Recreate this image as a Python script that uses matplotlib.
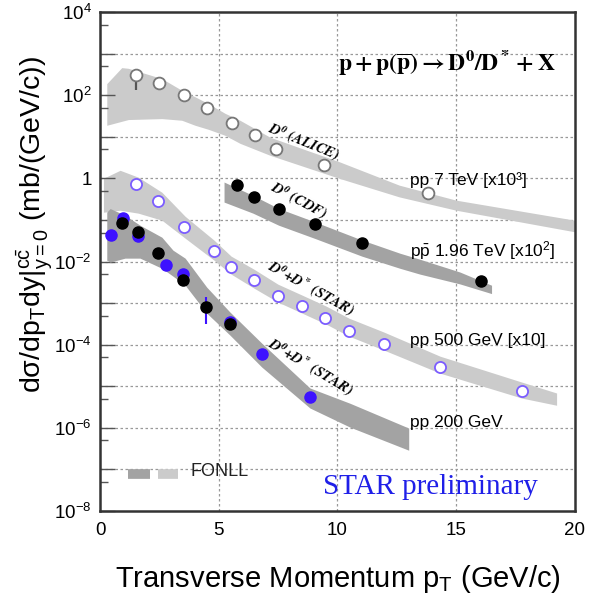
import matplotlib
matplotlib.use("Agg")
from matplotlib import pyplot as plt
from matplotlib.ticker import FixedLocator, FuncFormatter
import numpy as np

plt.rcParams['font.family'] = ['Liberation Sans', 'DejaVu Sans']
plt.rcParams['mathtext.fontset'] = 'custom'
plt.rcParams['mathtext.rm'] = 'Liberation Sans'
plt.rcParams['mathtext.it'] = 'Liberation Sans:italic'
plt.rcParams['mathtext.bf'] = 'Liberation Sans:bold'

# --- data points ---
alice_x = [1.52, 2.50, 3.55, 4.52, 5.55, 6.51, 7.41, 9.44, 13.82]
alice_y = [302, 198, 104, 50, 21, 11, 5.2, 2.1, 0.44]

cdf_x = [5.76, 6.50, 7.54, 9.05, 11.02, 16.04]
cdf_y = [0.69, 0.35, 0.18, 0.078, 0.028, 0.0035]

star500_x = [1.52, 2.45, 3.54, 4.80, 5.52, 6.48, 7.48, 8.51, 9.49, 10.48, 11.96, 14.33, 17.77]
star500_y = [0.72, 0.29, 0.068, 0.0178, 0.0075, 0.0037, 0.00148, 0.00085, 0.00045,
             0.000216, 0.000107, 2.9e-5, 7.7e-6]

star200_blue_x = [0.45, 0.98, 1.59, 2.78, 3.48, 5.47, 6.81, 8.84]
star200_blue_y = [0.043, 0.112, 0.041, 0.0085, 0.0049, 0.000354, 5.9e-5, 5.6e-6]

star200_black_x = [0.91, 1.59, 2.45, 3.48, 4.46, 5.47]
star200_black_y = [0.085, 0.052, 0.0162, 0.0037, 0.00081, 0.000313]

# --- FONLL bands ---
alice_band_x = [0.28, 0.91, 1.19, 2.60, 3.44, 4.0, 4.56, 5.26, 5.89, 7.16, 10.1, 12.6, 15.0, 20.0]
alice_band_hi = [191, 463, 446, 252, 132, 92, 63, 36.9, 25.1, 9.8, 2.49, 0.69, 0.30, 0.099]
alice_band_lo = [19.0, 23.7, 26.1, 27.5, 25.1, 19.0, 15.2, 10.9, 7.0, 3.6, 0.995, 0.36, 0.172, 0.052]

cdf_band_x = [5.22, 6.44, 7.52, 9.05, 11.03, 12.63, 13.47, 15.16, 16.49]
cdf_band_hi = [0.82, 0.39, 0.19, 0.090, 0.033, 0.0159, 0.0114, 0.0056, 0.0027]
cdf_band_lo = [0.27, 0.146, 0.075, 0.036, 0.0135, 0.0069, 0.0050, 0.0029, 0.0017]

s500_band_x = [0.14, 0.84, 1.61, 2.60, 3.58, 4.80, 5.52, 6.48, 7.49, 8.51, 9.52, 10.48,
               11.96, 14.32, 17.77, 19.23]
s500_band_hi = [1.01, 1.57, 1.07, 0.466, 0.123, 0.0327, 0.0135, 0.00656, 0.00286, 0.00156,
                8.5e-4, 4.36e-4, 2.01e-4, 5.3e-5, 1.26e-5, 6.9e-6]
s500_band_lo = [0.154, 0.172, 0.146, 0.099, 0.0366, 0.0108, 0.00498, 0.0023, 0.00106,
                5.75e-4, 3.13e-4, 1.61e-4, 7.4e-5, 2.07e-5, 5.2e-6, 3.5e-6]

s200_band_x = [0.28, 0.42, 1.05, 1.68, 2.60, 3.07, 3.58, 4.49, 5.47, 6.81, 8.84, 10.53, 13.0]
s200_band_hi = [0.154, 0.189, 0.130, 0.075, 0.0386, 0.0188, 0.0121, 0.00243, 6.1e-4,
                1.09e-4, 9.1e-6, 3.9e-6, 9.9e-7]
s200_band_lo = [0.0108, 0.0097, 0.0121, 0.0121, 0.0069, 0.00446, 0.00271, 5.75e-4, 1.70e-4,
                2.9e-5, 3.0e-6, 1.04e-6, 2.9e-7]

light = '#cbcbcb'
dark = '#a3a3a3'
blue = '#3d12ff'
purple = '#7b5cff'

fig = plt.figure(figsize=(5.89, 5.96), dpi=100)
ax = fig.add_axes([0.170, 0.1426, 0.806, 0.837])
ax.set_yscale('log')
ax.set_xlim(0, 20)
ax.set_ylim(1e-8, 1e4)

# grid lines drawn first, under the bands
for xv in [5, 10, 15]:
    ax.axvline(xv, color='#999999', linestyle=(0, (2, 2)), linewidth=0.9, zorder=0)
for k in range(-7, 4):
    ax.axhline(10.0 ** k, color='#999999', linestyle=(0, (2, 2)), linewidth=0.9, zorder=0)

# bands
ax.fill_between(alice_band_x, alice_band_lo, alice_band_hi, color=light, lw=0, zorder=1)
ax.fill_between(s500_band_x, s500_band_lo, s500_band_hi, color=light, lw=0, zorder=1)
ax.fill_between(cdf_band_x, cdf_band_lo, cdf_band_hi, color=dark, lw=0, zorder=2)
ax.fill_between(s200_band_x, s200_band_lo, s200_band_hi, color=dark, lw=0, zorder=2)

# points
ax.errorbar([alice_x[0]], [alice_y[0]], yerr=[[alice_y[0] - 132], [0]], fmt='none',
            ecolor='#555555', elinewidth=1.6, zorder=3)
ax.plot(alice_x, alice_y, 'o', ms=8.5, mfc='white', mec='#777777', mew=1.3, zorder=4)
ax.plot(star500_x, star500_y, 'o', ms=8, mfc='white', mec=purple, mew=1.3, zorder=4)
ax.plot(cdf_x, cdf_y, 'o', ms=8, color='black', zorder=4)
ax.plot(star200_blue_x, star200_blue_y, 'o', ms=8, color=blue, zorder=4)
ax.errorbar([star200_black_x[4]], [star200_black_y[4]], yerr=[[4.9e-4], [6.0e-4]], fmt='none',
            ecolor=blue, elinewidth=1.5, zorder=4)
ax.plot(star200_black_x, star200_black_y, 'o', ms=8, color='black', zorder=5)

# axes styling
for s in ax.spines.values():
    s.set_color('#333333')
    s.set_linewidth(1.8)
    s.set_zorder(6)
decades = [10.0 ** k for k in range(-8, 5)]
halves = [5 * 10.0 ** k for k in range(-9, 4)]
ax.yaxis.set_major_locator(FixedLocator(decades))
ax.yaxis.set_minor_locator(FixedLocator(halves))


def ylab(v, pos):
    k = int(round(np.log10(v)))
    if k % 2:
        return ''
    if k == 0:
        return '1'
    return r'10$^{%d}$' % k


ax.yaxis.set_major_formatter(FuncFormatter(ylab))
ax.yaxis.set_minor_formatter(FuncFormatter(lambda v, p: ''))
ax.set_xticks([0, 5, 10, 15, 20])
ax.tick_params(axis='both', which='major', direction='in', length=11, width=1.0,
               color='#555555', labelsize=13.5, pad=6)
ax.tick_params(axis='y', which='minor', direction='in', length=6, width=1.0, color='#555555')
ax.tick_params(axis='x', which='major', length=0, pad=8)

ax.set_xlabel(r'Transverse Momentum p$_{\rm T}$ (GeV/c)', fontsize=21)
ax.set_ylabel(r'dσ/dp$_{\rm T}$dy$|^{\rm c\bar{\rm c}}_{\rm y=0}$ (mb/(GeV/c))', fontsize=20.5)
ax.xaxis.set_label_coords(0.5, -0.105)
ax.yaxis.set_label_coords(-0.095, 0.575)

# annotations
ax.text(0.501, 0.90, r'$\mathbf{p + p(\overline{p}) \rightarrow D^0/D^* + X}$',
        transform=ax.transAxes, fontsize=17, math_fontfamily='stix', va='center', ha='left')
ax.text(13.05, 0.9, 'pp 7 TeV [x10³]', fontsize=12.5, va='center', ha='left')
ax.text(13.05, 0.0188, r'p$\bar{\rm p}$ 1.96 TeV [x10$^{2}$]', fontsize=12.5, va='center', ha='left')
ax.text(13.05, 1.29e-4, 'pp 500 GeV [x10]', fontsize=12.5, va='center', ha='left')
ax.text(13.05, 1.38e-6, 'pp 200 GeV', fontsize=12.5, va='center', ha='left')

ax.text(8.59, 7.4, r'$\mathbfit{D^0\ (ALICE)}$', math_fontfamily='stix', fontsize=10.5,
        rotation=-22, ha='center', va='center')
ax.text(8.35, 0.283, r'$\mathbfit{D^0\ (CDF)}$', math_fontfamily='stix', fontsize=10.5,
        rotation=-28, ha='center', va='center')
ax.text(8.88, 2.2e-3, r'$\mathbfit{D^0{+}D^*\ (STAR)}$', math_fontfamily='stix', fontsize=10.5,
        rotation=-29, ha='center', va='center')
ax.text(8.84, 2.75e-5, r'$\mathbfit{D^0{+}D^*\ (STAR)}$', math_fontfamily='stix', fontsize=10.5,
        rotation=-31, ha='center', va='center')

# FONLL legend
ax.plot([0.059, 0.105], [0.074, 0.074], transform=ax.transAxes, color=dark, lw=7,
        solid_capstyle='butt')
ax.plot([0.122, 0.164], [0.074, 0.074], transform=ax.transAxes, color=light, lw=7,
        solid_capstyle='butt')
ax.text(0.19, 0.08, 'FONLL', transform=ax.transAxes, fontsize=13, va='center', ha='left',
        color='#222222')
ax.text(0.469, 0.048, 'STAR preliminary', transform=ax.transAxes, fontsize=21,
        family='Liberation Serif', color='#1f1fe8', va='center', ha='left')

fig.savefig('out.png', dpi=100)
